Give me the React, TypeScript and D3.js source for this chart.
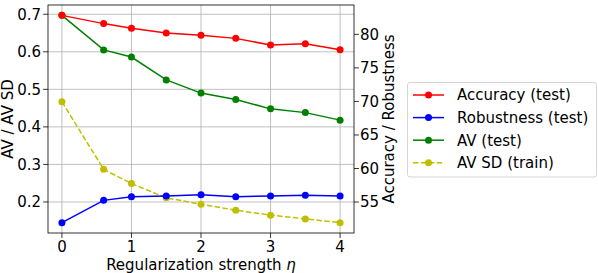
import React, { useEffect, useRef } from 'react';
import * as d3 from 'd3';

// regularization strengths on the x axis
const etas = [0, 0.6, 1, 1.5, 2, 2.5, 3, 3.5, 4];

// right axis (percent)
const accuracy = [82.83, 81.6, 80.9, 80.2, 79.85, 79.4, 78.4, 78.6, 77.7];
const robustness = [51.93, 55.25, 55.8, 55.9, 56.1, 55.8, 55.9, 56.0, 55.9];

// left axis
const av = [0.697, 0.605, 0.586, 0.525, 0.49, 0.473, 0.448, 0.438, 0.418];
const avSd = [0.467, 0.287, 0.249, 0.211, 0.194, 0.178, 0.165, 0.155, 0.145];

const xTicks = [0, 1, 2, 3, 4];
const leftTicks = [0.2, 0.3, 0.4, 0.5, 0.6, 0.7];
const rightTicks = [55, 60, 65, 70, 75, 80];

const legendItems = [
  { label: 'Accuracy (test)', color: '#ff0000', dashed: false },
  { label: 'Robustness (test)', color: '#0000ff', dashed: false },
  { label: 'AV (test)', color: '#008000', dashed: false },
  { label: 'AV SD (train)', color: '#bfbf00', dashed: true },
];

const FONT = 'DejaVu Sans, sans-serif';

// matplotlib-style 5% padding
const padded = (vals: number[]) => {
  const [lo, hi] = d3.extent(vals) as [number, number];
  const p = (hi - lo) * 0.05;
  return [lo - p, hi + p];
};

const App = () => {
  const ref = useRef<SVGSVGElement>(null);

  useEffect(() => {
    document.body.style.margin = '0';
    const svg = d3.select(ref.current);
    svg.selectAll('*').remove();

    const left = 48, right = 354, top = 5, bottom = 233;

    const x = d3.scaleLinear().domain([-0.2, 4.2]).range([left, right]);
    const yL = d3.scaleLinear().domain(padded([...av, ...avSd])).range([bottom, top]);
    const yR = d3.scaleLinear().domain(padded([...accuracy, ...robustness])).range([bottom, top]);

    // grid
    const grid = svg.append('g');
    grid.selectAll('.vx').data(xTicks).enter().append('line')
      .attr('x1', d => x(d)).attr('x2', d => x(d))
      .attr('y1', top).attr('y2', bottom)
      .attr('stroke', '#b0b0b0').attr('stroke-width', 0.8);
    grid.selectAll('.hy').data(leftTicks).enter().append('line')
      .attr('x1', left).attr('x2', right)
      .attr('y1', d => yL(d)).attr('y2', d => yL(d))
      .attr('stroke', '#b0b0b0').attr('stroke-width', 0.8);

    const drawSeries = (vals: number[], y: d3.ScaleLinear<number, number>, color: string, dashed: boolean) => {
      const pts = etas.map((e, i) => [x(e), y(vals[i])] as [number, number]);
      svg.append('path')
        .attr('d', d3.line()(pts))
        .attr('fill', 'none')
        .attr('stroke', color)
        .attr('stroke-width', 1.5)
        .attr('stroke-dasharray', dashed ? '5.5,2.4' : null);
      svg.append('g').selectAll('circle').data(pts).enter().append('circle')
        .attr('cx', d => d[0]).attr('cy', d => d[1]).attr('r', 3.5)
        .attr('fill', color);
    };

    drawSeries(av, yL, '#008000', false);
    drawSeries(avSd, yL, '#bfbf00', true);
    drawSeries(accuracy, yR, '#ff0000', false);
    drawSeries(robustness, yR, '#0000ff', false);

    // frame
    svg.append('rect')
      .attr('x', left).attr('y', top)
      .attr('width', right - left).attr('height', bottom - top)
      .attr('fill', 'none').attr('stroke', '#000').attr('stroke-width', 0.8);

    const fmt1 = d3.format('.1f');

    // x ticks
    const xt = svg.append('g');
    xt.selectAll('line').data(xTicks).enter().append('line')
      .attr('x1', d => x(d)).attr('x2', d => x(d))
      .attr('y1', bottom).attr('y2', bottom + 4.9)
      .attr('stroke', '#000').attr('stroke-width', 0.8);
    xt.selectAll('text').data(xTicks).enter().append('text')
      .attr('x', d => x(d)).attr('y', 251.5)
      .attr('text-anchor', 'middle')
      .attr('font-family', FONT).attr('font-size', 15)
      .text(d => d);

    // left ticks
    const lt = svg.append('g');
    lt.selectAll('line').data(leftTicks).enter().append('line')
      .attr('x1', left - 4.9).attr('x2', left)
      .attr('y1', d => yL(d)).attr('y2', d => yL(d))
      .attr('stroke', '#000').attr('stroke-width', 0.8);
    lt.selectAll('text').data(leftTicks).enter().append('text')
      .attr('x', 41).attr('y', d => yL(d))
      .attr('dy', '0.36em')
      .attr('text-anchor', 'end')
      .attr('font-family', FONT).attr('font-size', 15)
      .text(d => fmt1(d));

    // right ticks
    const rt = svg.append('g');
    rt.selectAll('line').data(rightTicks).enter().append('line')
      .attr('x1', right).attr('x2', right + 4.9)
      .attr('y1', d => yR(d)).attr('y2', d => yR(d))
      .attr('stroke', '#000').attr('stroke-width', 0.8);
    rt.selectAll('text').data(rightTicks).enter().append('text')
      .attr('x', 360).attr('y', d => yR(d))
      .attr('dy', '0.36em')
      .attr('font-family', FONT).attr('font-size', 15)
      .text(d => d);

    // axis labels
    const xl = svg.append('text')
      .attr('x', (left + right) / 2).attr('y', 270)
      .attr('text-anchor', 'middle')
      .attr('font-family', FONT).attr('font-size', 15);
    xl.append('tspan').text('Regularization strength ');
    xl.append('tspan').attr('font-style', 'italic').text('η');

    svg.append('text')
      .attr('transform', `translate(13, ${(top + bottom) / 2}) rotate(-90)`)
      .attr('text-anchor', 'middle')
      .attr('font-family', FONT).attr('font-size', 15)
      .text('AV / AV SD');

    svg.append('text')
      .attr('transform', `translate(394, ${(top + bottom) / 2}) rotate(-90)`)
      .attr('text-anchor', 'middle')
      .attr('font-family', FONT).attr('font-size', 15)
      .text('Accuracy / Robustness');

    // legend
    const lg = svg.append('g');
    lg.append('rect')
      .attr('x', 407.5).attr('y', 82.5).attr('width', 189).attr('height', 94.5)
      .attr('rx', 2.5)
      .attr('fill', '#fff').attr('stroke', '#d6d6d6').attr('stroke-width', 1);
    const rows = lg.selectAll('.item').data(legendItems).enter().append('g')
      .attr('transform', (d, i) => `translate(0, ${95 + i * 22.6})`);
    rows.append('line')
      .attr('x1', 413).attr('x2', 444).attr('y1', 0).attr('y2', 0)
      .attr('stroke', d => d.color).attr('stroke-width', 1.5)
      .attr('stroke-dasharray', d => (d.dashed ? '5.5,2.4' : null));
    rows.append('circle')
      .attr('cx', 428.5).attr('cy', 0).attr('r', 3.5)
      .attr('fill', d => d.color);
    rows.append('text')
      .attr('x', 457).attr('y', 0).attr('dy', '0.36em')
      .attr('font-family', FONT).attr('font-size', 15)
      .text(d => d.label);
  }, []);

  return <svg ref={ref} width={598} height={273} style={{ display: 'block' }} />;
};

export default App;
